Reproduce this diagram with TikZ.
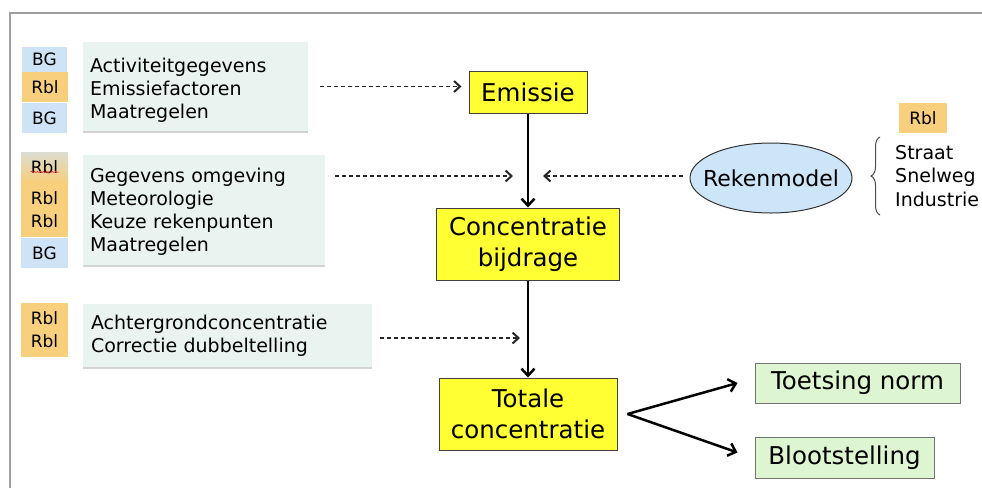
\documentclass[tikz,border=0pt]{standalone}
\usepackage{fontspec}
\setmainfont{DejaVu Sans}
\usetikzlibrary{arrows.meta,shadows,shapes.geometric,decorations.pathreplacing,decorations.pathmorphing}
\definecolor{tagblauw}{HTML}{CFE3F6}
\definecolor{tagoranje}{HTML}{F7CF7D}
\definecolor{lijstgroen}{HTML}{E9F4F1}
\definecolor{stapgeel}{HTML}{FFFF33}
\definecolor{uitgroen}{HTML}{DDF5D0}
\definecolor{modelblauw}{HTML}{CDE5F8}
\tikzset{
  tag/.style={inner sep=0pt,align=center,font=\fontsize{17}{23}\selectfont},
  bgtag/.style={tag,fill=tagblauw},
  rbltag/.style={tag,fill=tagoranje},
  lijst/.style={fill=lijstgroen,align=left,inner xsep=7pt,inner ysep=0pt,font=\fontsize{19}{23}\selectfont,drop shadow={shadow xshift=0pt,shadow yshift=-2pt,opacity=0.35}},
  stap/.style={draw=black!75,fill=stapgeel,line width=1pt,align=center,inner sep=0pt,font=\fontsize{24.5}{31}\selectfont},
  uit/.style={draw=black!55,fill=uitgroen,line width=1pt,inner sep=0pt,font=\fontsize{24.5}{31}\selectfont},
  pijl/.style={line width=2.5pt,-{Straight Barb[length=7pt,width=13pt]}},
  stippel/.style={draw=black!85,line width=1.4pt,dash pattern=on 4pt off 3pt,-{Straight Barb[length=6pt,width=11pt,line width=2pt]}}
}
\begin{document}
\begin{tikzpicture}[x=1pt,y=-1pt]
\useasboundingbox (0,0) rectangle (982,488);
\draw[black!38,line width=2pt] (10,488) -- (10,13) -- (982,13);
\node[bgtag,minimum width=45pt,minimum height=25pt,name=t1] at (44.5,59.5) {BG};
\node[rbltag,minimum width=46pt,minimum height=30pt,name=t2] at (45,87) {Rbl};
\node[bgtag,minimum width=45pt,minimum height=30pt,name=t3] at (44.5,118) {BG};
\node[tag,top color=tagblauw!70!tagoranje,bottom color=tagoranje,minimum width=47pt,minimum height=30pt,name=t4] at (44.5,167) {Rbl};
\node[rbltag,minimum width=47pt,minimum height=55pt,name=t5] at (44.5,209.5) {Rbl\\Rbl};
\node[bgtag,minimum width=47pt,minimum height=30pt,name=t6] at (44.5,253) {BG};
\node[rbltag,minimum width=47pt,minimum height=54pt,name=t7] at (44.5,330) {Rbl\\Rbl};
\node[rbltag,minimum width=48pt,minimum height=30pt,name=t8] at (923,118) {Rbl};
\draw[red!80,line width=0.6pt,decorate,decoration={snake,amplitude=0.7pt,segment length=3pt}] ([xshift=-14pt,yshift=-5pt]t4.center) -- ([xshift=14pt,yshift=-5pt]t4.center);
\node[lijst,text width=211pt,minimum height=89pt,name=l1] at (195.5,86.5) {\rule{0pt}{22pt}Activiteitgegevens\\Emissiefactoren\\Maatregelen};
\node[lijst,text width=228pt,minimum height=110pt,name=l2] at (204,210) {\rule{0pt}{18pt}Gegevens omgeving\\Meteorologie\\Keuze rekenpunten\\Maatregelen};
\node[lijst,inner xsep=8pt,text width=273pt,minimum height=63pt,name=l3] at (227.5,335.5) {Achtergrondconcentratie\\Correctie dubbeltelling};
\node[stap,minimum width=118pt,minimum height=42pt,name=emis] at (528,92) {Emissie};
\node[stap,minimum width=183pt,minimum height=72pt,name=conc] at (528,244) {Concentratie\\bijdrage};
\node[stap,minimum width=178pt,minimum height=72pt,name=tot] at (528,414) {Totale\\concentratie};
\node[uit,minimum width=205pt,minimum height=40pt,name=toets] at (857.5,383) {Toetsing norm};
\node[uit,minimum width=179pt,minimum height=41pt,name=bloot] at (844.5,457.5) {Blootstelling};
\node[draw=black!80,fill=modelblauw,ellipse,line width=1pt,minimum width=162pt,minimum height=70pt,inner xsep=-12pt,inner ysep=0pt,font=\fontsize{22}{26}\selectfont,name=model] at (771,178) {Rekenmodel};
\node[align=left,anchor=west,inner sep=0pt,font=\fontsize{19}{23.5}\selectfont,name=soort] at (895,176) {Straat\\Snelweg\\Industrie};
\draw[black!70,line width=1pt,decorate,decoration={brace,amplitude=9pt}] ([xshift=-15pt,yshift=-39pt]soort.west) -- ([xshift=-15pt,yshift=39pt]soort.west);
\coordinate (k1) at (528,176);
\coordinate (k2) at (528,338);
\draw[stippel] ([xshift=12pt]l1.east) -- ([xshift=-7pt]emis.west |- l1.east);
\draw[stippel] ([xshift=10pt]l2.east |- k1) -- ([xshift=-15pt]k1);
\draw[stippel] ([xshift=-7pt]model.west |- k1) -- ([xshift=15pt]k1);
\draw[stippel] ([xshift=8pt]l3.east |- k2) -- ([xshift=-8pt]k2);
\draw[pijl] (emis.south) -- (conc.north);
\draw[pijl] (conc.south) -- (tot.north);
\draw[pijl] ([xshift=10pt]tot.east) -- ([xshift=-17pt]toets.west);
\draw[pijl] ([xshift=10pt]tot.east) -- ([xshift=-17pt,yshift=5pt]bloot.west);
\end{tikzpicture}
\end{document}
